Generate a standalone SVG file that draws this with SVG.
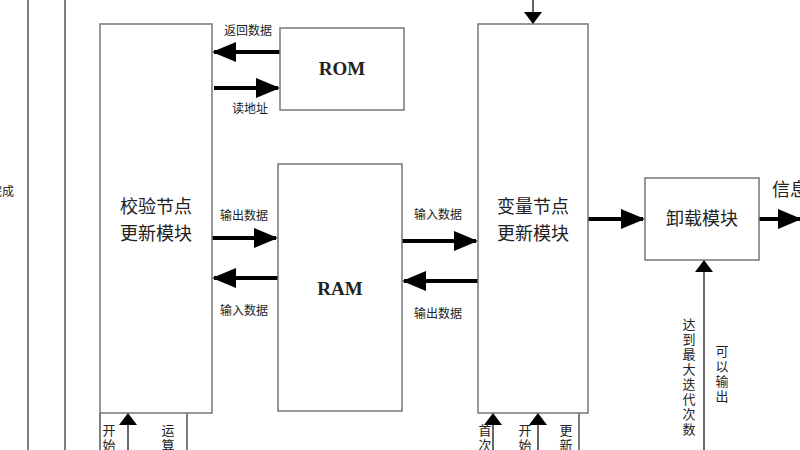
<svg xmlns="http://www.w3.org/2000/svg" width="800" height="450" viewBox="0 0 800 450">
<style>
.b{fill:#fff;stroke:#777;stroke-width:1.5}
.t{font-family:"Liberation Serif","Noto Sans CJK SC",serif;fill:#222}
.big{font-size:18px}
.s{font-size:12px}
.a{stroke:#000;stroke-width:4;fill:none;marker-end:url(#ah)}
.l{stroke:#555;stroke-width:1.5;fill:none}
.la{stroke:#333;stroke-width:1.5;fill:none;marker-end:url(#sh)}
.v{font-size:13px;writing-mode:vertical-rl;letter-spacing:2px}
</style>
<defs>
<marker id="ah" markerWidth="6" markerHeight="5" refX="5.5" refY="2.5" orient="auto" markerUnits="strokeWidth"><path d="M0,0L6,2.5L0,5z"/></marker>
<marker id="sh" markerWidth="8" markerHeight="12" refX="8" refY="6" orient="auto" markerUnits="strokeWidth"><path d="M0,0L8,6L0,12z"/></marker>
</defs>
<g id="connectors">
<line class="l" x1="28" y1="0" x2="28" y2="450"/>
<line class="l" x1="65" y1="0" x2="65" y2="450"/>
<line class="a" x1="280" y1="52" x2="214" y2="52"/>
<line class="a" x1="214" y1="88" x2="278" y2="88"/>
<line class="a" x1="212" y1="238" x2="276" y2="238"/>
<line class="a" x1="278" y1="278" x2="214" y2="278"/>
<line class="a" x1="402" y1="241" x2="476" y2="241"/>
<line class="a" x1="478" y1="281" x2="404" y2="281"/>
<line class="a" x1="588" y1="219" x2="643" y2="219"/>
<line class="a" x1="759" y1="219" x2="800" y2="219"/>
<line class="la" x1="533" y1="0" x2="533" y2="24"/>
<line class="l" x1="100" y1="413" x2="100" y2="450"/>
<line class="la" x1="128" y1="450" x2="128" y2="413"/>
<line class="l" x1="187" y1="413" x2="187" y2="450"/>
<line class="la" x1="493" y1="450" x2="493" y2="413"/>
<line class="la" x1="538" y1="450" x2="538" y2="413"/>
<line class="l" x1="579" y1="413" x2="579" y2="450"/>
<line class="la" x1="704" y1="450" x2="704" y2="260"/>
</g>
<g id="check"><rect class="b" x="100" y="24" width="112" height="389"/>
<text class="t big" x="156" y="213" text-anchor="middle">校验节点</text>
<text class="t big" x="156" y="240" text-anchor="middle">更新模块</text></g>
<g id="rom"><rect class="b" x="280" y="28" width="124" height="82"/>
<text class="t" x="342" y="75" text-anchor="middle" font-size="19" font-weight="bold">ROM</text></g>
<g id="ram"><rect class="b" x="278" y="164" width="124" height="247"/>
<text class="t" x="340" y="295" text-anchor="middle" font-size="19" font-weight="bold">RAM</text></g>
<g id="var"><rect class="b" x="478" y="24" width="110" height="389"/>
<text class="t big" x="533" y="213" text-anchor="middle">变量节点</text>
<text class="t big" x="533" y="240" text-anchor="middle">更新模块</text></g>
<g id="unload"><rect class="b" x="645" y="178" width="114" height="82"/>
<text class="t big" x="702" y="225" text-anchor="middle">卸载模块</text></g>
<g id="labels">
<text class="t s" x="248" y="35" text-anchor="middle">返回数据</text>
<text class="t s" x="250" y="113" text-anchor="middle">读地址</text>
<text class="t s" x="244" y="220" text-anchor="middle">输出数据</text>
<text class="t s" x="244" y="315" text-anchor="middle">输入数据</text>
<text class="t s" x="438" y="219" text-anchor="middle">输入数据</text>
<text class="t s" x="438" y="318" text-anchor="middle">输出数据</text>
<text class="t big" x="772" y="196">信息</text>
<text class="t s" x="-10" y="196">完成</text>
<text class="t v" x="108" y="424">开始</text>
<text class="t v" x="167" y="424">运算</text>
<text class="t v" x="484" y="424">首次</text>
<text class="t v" x="524" y="424">开始</text>
<text class="t v" x="565" y="424">更新</text>
<text class="t v" x="688" y="318">达到最大迭代次数</text>
<text class="t v" x="721" y="345">可以输出</text>
</g>
</svg>
